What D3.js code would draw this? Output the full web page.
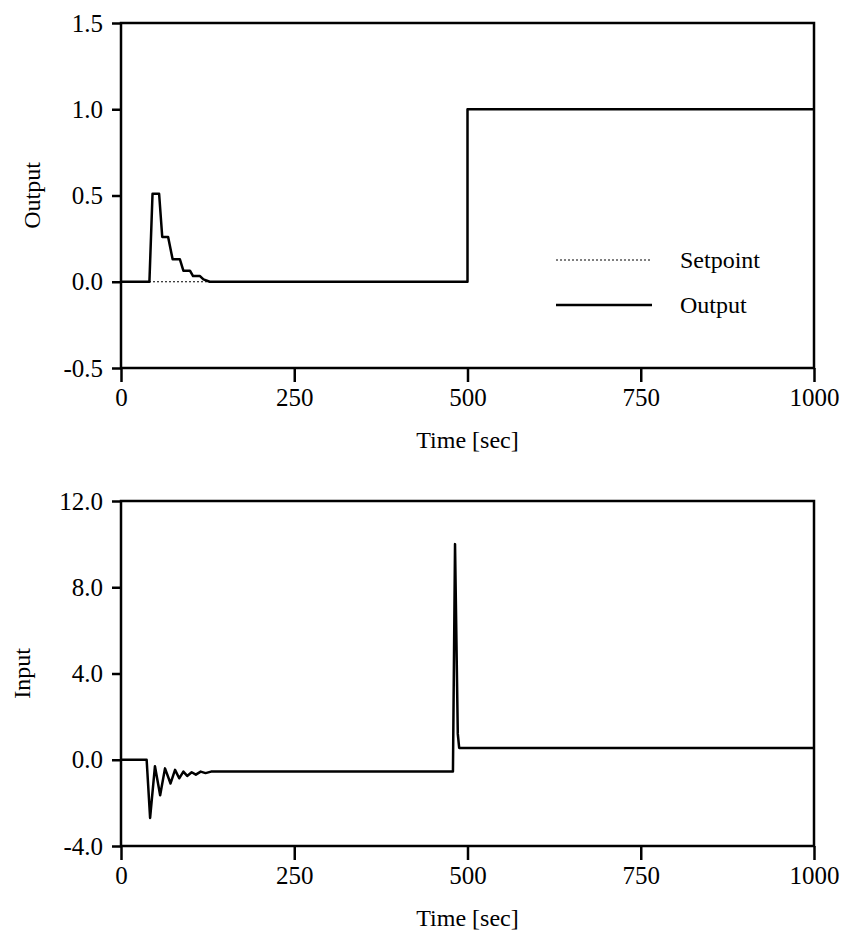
<!DOCTYPE html>
<html>
<head>
<meta charset="utf-8">
<script src="https://cdn.jsdelivr.net/npm/d3@7"></script>
<style>
  body { margin: 0; background: #fff; }
  text { font-family: "Liberation Serif", "DejaVu Serif", serif; fill: #000; }
</style>
</head>
<body>
<div id="chart"></div>
<script>
// time axis ticks (shared)
const timeTicks = [0, 250, 500, 750, 1000];

// top panel: setpoint and output, [time, value]
const setpoint = [[0, 0], [500, 0], [500, 1], [1000, 1]];
const output = [
  [0, 0], [41, 0], [45.5, 0.51], [55, 0.51], [59.5, 0.26], [68, 0.26],
  [74.5, 0.13], [85, 0.13], [90, 0.064], [99.5, 0.064], [104, 0.033],
  [114, 0.033], [119, 0.014], [128, 0.0], [500, 0], [500, 1], [1000, 1]
];
const outputTicks = [-0.5, 0.0, 0.5, 1.0, 1.5];

// bottom panel: controller input, [time, value]
const input = [
  [0, 0], [37, 0], [42, -2.7], [49, -0.3], [56.5, -1.65], [63.5, -0.4],
  [71.5, -1.1], [78, -0.47], [84, -0.86], [90, -0.55], [95.5, -0.75],
  [102, -0.58], [108, -0.69], [115, -0.55], [122, -0.62], [130, -0.55],
  [479, -0.55], [482, 10], [486, 1.2], [488, 0.55], [1000, 0.55]
];
const inputTicks = [-4.0, 0.0, 4.0, 8.0, 12.0];

const legendItems = [
  {label: "Setpoint", dash: "2,2", width: 1},
  {label: "Output", dash: null, width: 2.5}
];

const W = 850, H = 945;
const svg = d3.select("#chart").append("svg")
    .attr("width", W)
    .attr("height", H);

const x0 = 121, x1 = 814;

function panel(top, bottom, yDomain, yTicks, yLabel, labelX) {
  const x = d3.scaleLinear().domain([0, 1000]).range([x0, x1]);
  const y = d3.scaleLinear().domain(yDomain).range([bottom, top]);
  const g = svg.append("g");

  // frame
  g.append("rect")
    .attr("x", x0).attr("y", top)
    .attr("width", x1 - x0).attr("height", bottom - top)
    .attr("fill", "none")
    .attr("stroke", "#000")
    .attr("stroke-width", 2.5);

  // axes (plain hyphen for negatives, like the original)
  const ax = g.append("g")
    .attr("transform", `translate(0, ${bottom})`)
    .call(d3.axisBottom(x).tickValues(timeTicks).tickSize(14).tickPadding(6).tickFormat(d => String(d)));
  const ay = g.append("g")
    .attr("transform", `translate(${x0}, 0)`)
    .call(d3.axisLeft(y).tickValues(yTicks).tickSize(9).tickPadding(9).tickFormat(d => d.toFixed(1)));
  [ax, ay].forEach(a => {
    a.select(".domain").remove();
    a.selectAll("line").attr("stroke", "#000").attr("stroke-width", 2.5);
    a.selectAll("text").style("font-family", '"Liberation Serif", serif').style("font-size", "25px").attr("fill", "#000");
  });

  // axis titles
  g.append("text")
    .attr("x", (x0 + x1) / 2)
    .attr("y", bottom + 80)
    .attr("text-anchor", "middle")
    .style("font-size", "24px")
    .text("Time [sec]");
  g.append("text")
    .attr("transform", `translate(${labelX}, ${(top + bottom) / 2}) rotate(-90)`)
    .attr("text-anchor", "middle")
    .style("font-size", "24px")
    .text(yLabel);

  return {x, y, g};
}

const line = (p) => d3.line().x(d => p.x(d[0])).y(d => p.y(d[1]));

// top panel
const p1 = panel(23, 368, [-0.5, 1.5], outputTicks, "Output", 40);
p1.g.append("path")
  .datum(setpoint)
  .attr("fill", "none")
  .attr("stroke", "#000")
  .attr("stroke-width", 1)
  .attr("stroke-dasharray", "2,2")
  .attr("d", line(p1));
p1.g.append("path")
  .datum(output)
  .attr("fill", "none")
  .attr("stroke", "#000")
  .attr("stroke-width", 2.5)
  .attr("stroke-linejoin", "round")
  .attr("d", line(p1));

// legend
const leg = p1.g.append("g").attr("transform", "translate(556, 260)");
legendItems.forEach((d, i) => {
  const row = leg.append("g").attr("transform", `translate(0, ${i * 45})`);
  row.append("line")
    .attr("x1", 0).attr("x2", 96)
    .attr("stroke", "#000")
    .attr("stroke-width", d.width)
    .attr("stroke-dasharray", d.dash);
  row.append("text")
    .attr("x", 124)
    .attr("dy", "0.35em")
    .style("font-size", "24px")
    .text(d.label);
});

// bottom panel
const p2 = panel(501, 846, [-4, 12], inputTicks, "Input", 30);
p2.g.append("path")
  .datum(input)
  .attr("fill", "none")
  .attr("stroke", "#000")
  .attr("stroke-width", 2.5)
  .attr("stroke-linejoin", "round")
  .attr("d", line(p2));
</script>
</body>
</html>
